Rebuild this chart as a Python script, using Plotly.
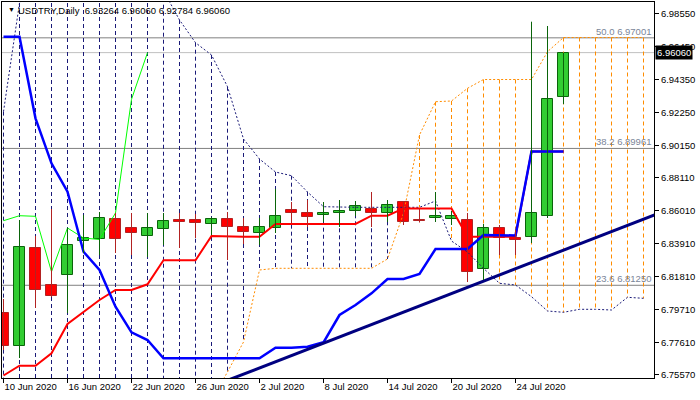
import datetime as dt
import plotly.graph_objects as go

# ---------------- data ----------------
dates = ["2020-06-10", "2020-06-11", "2020-06-12", "2020-06-15", "2020-06-16", "2020-06-17",
         "2020-06-18", "2020-06-19", "2020-06-22", "2020-06-23", "2020-06-24", "2020-06-25",
         "2020-06-26", "2020-06-29", "2020-06-30", "2020-07-01", "2020-07-02", "2020-07-03",
         "2020-07-06", "2020-07-07", "2020-07-08", "2020-07-09", "2020-07-10", "2020-07-13",
         "2020-07-14", "2020-07-15", "2020-07-16", "2020-07-17", "2020-07-20", "2020-07-21",
         "2020-07-22", "2020-07-23", "2020-07-24", "2020-07-27", "2020-07-28", "2020-07-29"]

opens = [6.79484, 6.77384, 6.83622, 6.81268, 6.81903, 6.84068, 6.84195, 6.85468, 6.84895, 6.84386,
         6.84832, 6.85405, 6.85405, 6.85150, 6.85468, 6.84959, 6.84577, 6.84895, 6.86041, 6.85850,
         6.85723, 6.85850, 6.85977, 6.86105, 6.85850, 6.86550, 6.85405, 6.85532, 6.85500, 6.85405,
         6.82285, 6.84895, 6.84290, 6.84322, 6.85678, 6.93264]
highs = [6.80376, 6.85405, 6.84386, 6.86105, 6.84895, 6.85723, 6.85914, 6.85850, 6.85850, 6.85850,
         6.85850, 6.85850, 6.85786, 6.85595, 6.85914, 6.85532, 6.85532, 6.87378, 6.86550, 6.86678,
         6.86550, 6.86678, 6.86614, 6.87187, 6.86678, 6.86614, 6.86105, 6.87187, 6.85977, 6.85850,
         6.85150, 6.85086, 6.84768, 6.98028, 6.97754, 6.96060]
lows = [6.77129, 6.76620, 6.79803, 6.80503, 6.79484, 6.83304, 6.83177, 6.83304, 6.83177, 6.83049,
        6.83813, 6.83622, 6.84259, 6.84450, 6.82858, 6.83877, 6.83813, 6.84577, 6.85214, 6.84959,
        6.85277, 6.84959, 6.85659, 6.84959, 6.85277, 6.85086, 6.85245, 6.85277, 6.85086, 6.81458,
        6.81585, 6.83177, 6.83177, 6.83940, 6.85532, 6.92784]
closes = [6.77384, 6.83686, 6.80949, 6.80567, 6.83813, 6.84259, 6.85532, 6.84195, 6.84577, 6.84895,
          6.85341, 6.85277, 6.85214, 6.85468, 6.84959, 6.84641, 6.84959, 6.85659, 6.85850, 6.85595,
          6.85850, 6.85977, 6.86296, 6.85850, 6.86359, 6.85277, 6.85360, 6.85678, 6.85640, 6.82113,
          6.84895, 6.84259, 6.84163, 6.85850, 6.93088, 6.96060]

tenkan = [6.75506, 6.76130, 6.76130, 6.76919, 6.78784, 6.79529, 6.80312, 6.80949, 6.80949, 6.81311,
          6.82839, 6.82839, 6.82839, 6.84386, 6.84341, 6.84341, 6.84341, 6.85150, 6.85150, 6.85150,
          6.85150, 6.85150, 6.85150, 6.85678, 6.85678, 6.86140, 6.86140, 6.86140, 6.86140, 6.84341,
          6.84341, 6.84341, 6.84341, 6.89760, 6.89760, 6.89760]
kijun = [6.97073, 6.97073, 6.91878, 6.89014, 6.87206, 6.83386, 6.82222, 6.79885, 6.78256, 6.77766,
         6.76601, 6.76601, 6.76601, 6.76601, 6.76601, 6.76601, 6.76601, 6.77276, 6.77276, 6.77339,
         6.77619, 6.79357, 6.79994, 6.80738, 6.81649, 6.81649, 6.81967, 6.83558, 6.83558, 6.83558,
         6.84450, 6.84450, 6.84420, 6.89760, 6.89760, 6.89760]
span_a = [6.7250] * 13 + [6.73950, 6.75729, 6.77638, 6.82222] + [6.82330] * 7 + \
         [6.82922, 6.85831, 6.90815, 6.92935, 6.92980, 6.93788] + [6.94348] * 4 + \
         [6.96118] + [6.97022] * 6
span_b = [6.92305, 6.99218] + [7.0100] * 8 + \
         [7.0000, 6.98136, 6.96691, 6.95908, 6.93890, 6.90561, 6.89288, 6.88460, 6.88225, 6.87187,
          6.86251] + [6.86213] * 6 + \
         [6.86614, 6.84068, 6.83367, 6.82330, 6.81375, 6.81267, 6.80522, 6.79612, 6.79529, 6.79720,
          6.79720, 6.79675, 6.80484, 6.80420]
chikou_shift = 26

fib_levels = [6.97001, 6.89961, 6.81250]
fib_names = ["50.0", "38.2", "23.6"]
bid_price = 6.96060
trend_idx = [14, 41]
trend_price = [6.75200, 6.85853]

tick_dates = ["2020-06-10", "2020-06-16", "2020-06-22", "2020-06-26", "2020-07-02",
              "2020-07-08", "2020-07-14", "2020-07-20", "2020-07-24"]
y_ticks = [6.98550, 6.96450, 6.94350, 6.92250, 6.90150, 6.88110, 6.86010,
           6.83910, 6.81810, 6.79710, 6.77610, 6.75570]
title_text = "USDTRY,Daily  6.93264 6.96060 6.92784 6.96060"

# ---------------- style ----------------
FONT = "Liberation Sans, Arial, sans-serif"
FS = 9.5
UP_FILL, UP_LINE = "#32CD32", "#0A640A"
DN_FILL, DN_LINE = "#FF0000", "#B22222"
NAVY = "#1A1A78"
ORANGE = "#FF8C00"

idx = list(range(len(dates)))
cloud_idx = list(range(len(span_a)))

fig = go.Figure()

# Ichimoku cloud histogram (vertical dashed lines)
ox, oy, nx, ny = [], [], [], []
for i in cloud_idx:
    if span_a[i] > span_b[i]:
        ox += [i, i, None]; oy += [span_a[i], span_b[i], None]
    else:
        nx += [i, i, None]; ny += [span_b[i], span_a[i], None]
fig.add_trace(go.Scatter(x=nx, y=ny, mode="lines", line=dict(color=NAVY, width=1, dash="4px,3px"),
                         hoverinfo="skip"))
fig.add_trace(go.Scatter(x=ox, y=oy, mode="lines", line=dict(color=ORANGE, width=1, dash="4px,3px"),
                         hoverinfo="skip"))
# Senkou spans
fig.add_trace(go.Scatter(x=cloud_idx, y=span_a, mode="lines",
                         line=dict(color=ORANGE, width=1, dash="2px,2px")))
fig.add_trace(go.Scatter(x=cloud_idx, y=span_b, mode="lines",
                         line=dict(color=NAVY, width=1, dash="2px,2px")))
# Chikou
fig.add_trace(go.Scatter(x=idx[:len(idx) - chikou_shift], y=closes[chikou_shift:], mode="lines",
                         line=dict(color="#00FF00", width=1)))
# Tenkan / Kijun
fig.add_trace(go.Scatter(x=idx, y=tenkan, mode="lines", line=dict(color="#FF0000", width=2)))
fig.add_trace(go.Scatter(x=idx, y=kijun, mode="lines", line=dict(color="#0000FF", width=2.5)))
# Trend line
fig.add_trace(go.Scatter(x=trend_idx, y=trend_price, mode="lines", line=dict(color="#000080", width=3)))

# Candles: wicks
for up in (True, False):
    wx, wy = [], []
    for i in idx:
        if (closes[i] >= opens[i]) == up:
            wx += [i, i, None]; wy += [lows[i], highs[i], None]
    fig.add_trace(go.Scatter(x=wx, y=wy, mode="lines",
                             line=dict(color=UP_LINE if up else DN_LINE, width=1)))
# Candles: bodies
fig.add_trace(go.Bar(
    x=idx,
    base=[min(o, c) for o, c in zip(opens, closes)],
    y=[abs(c - o) for o, c in zip(opens, closes)],
    width=0.66,
    marker=dict(color=[UP_FILL if c >= o else DN_FILL for o, c in zip(opens, closes)],
                line=dict(color=[UP_LINE if c >= o else DN_LINE for o, c in zip(opens, closes)], width=1)),
))

shapes = []
for lvl in fib_levels:
    shapes.append(dict(type="line", xref="paper", x0=0, x1=1, yref="y", y0=lvl, y1=lvl,
                       line=dict(color="#808080", width=1), layer="below"))
shapes.append(dict(type="line", xref="paper", x0=0, x1=1, yref="y", y0=bid_price, y1=bid_price,
                   line=dict(color="#C0C0C0", width=1), layer="below"))

annotations = []
for lvl, name in zip(fib_levels, fib_names):
    annotations.append(dict(xref="paper", x=1, xanchor="right", xshift=-1, yref="y", y=lvl,
                            yanchor="bottom", yshift=-1, text=f"{name} {lvl:.5f}", showarrow=False,
                            font=dict(family=FONT, size=FS, color="#7A8599")))
annotations.append(dict(xref="paper", x=1, xanchor="left", xshift=1, yref="y", y=bid_price,
                        yanchor="middle", text=f"{bid_price:.5f}", showarrow=False, bgcolor="black",
                        borderpad=1, font=dict(family=FONT, size=FS, color="white")))
annotations.append(dict(xref="paper", x=0, xanchor="left", xshift=4, yref="paper", y=1,
                        yanchor="top", yshift=-2, text="▼", showarrow=False,
                        font=dict(family=FONT, size=7, color="black")))
annotations.append(dict(xref="paper", x=0, xanchor="left", xshift=14, yref="paper", y=1,
                        yanchor="top", yshift=-1, text=title_text, showarrow=False,
                        font=dict(family=FONT, size=FS, color="black")))

tick_idx = [dates.index(d) for d in tick_dates]
tick_txt = []
for d in tick_dates:
    t = dt.date.fromisoformat(d)
    tick_txt.append(f"{t.day} {t.strftime('%b')} {t.year}")

fig.update_layout(
    width=700, height=400,
    margin=dict(l=2, r=46, t=2, b=22, autoexpand=False),
    paper_bgcolor="white", plot_bgcolor="white",
    showlegend=False, bargap=0,
    shapes=shapes, annotations=annotations,
    font=dict(family=FONT, size=FS, color="black"),
    xaxis=dict(range=[-0.09375, 40.656], tickvals=tick_idx, ticktext=tick_txt,
               ticks="outside", ticklen=4, tickcolor="black", ticklabelposition="outside right",
               showline=True, linecolor="black", linewidth=1, mirror=True,
               showgrid=False, zeroline=False, fixedrange=True),
    yaxis=dict(range=[6.75347, 6.99282], side="right", tickvals=y_ticks,
               ticktext=[f"{v:.5f}" for v in y_ticks],
               ticks="outside", ticklen=4, tickcolor="black",
               showline=True, linecolor="black", linewidth=1, mirror=True,
               showgrid=False, zeroline=False, fixedrange=True),
)

fig.write_html("out.html", config={"displayModeBar": False},
               post_script="document.body.style.margin='0';")
